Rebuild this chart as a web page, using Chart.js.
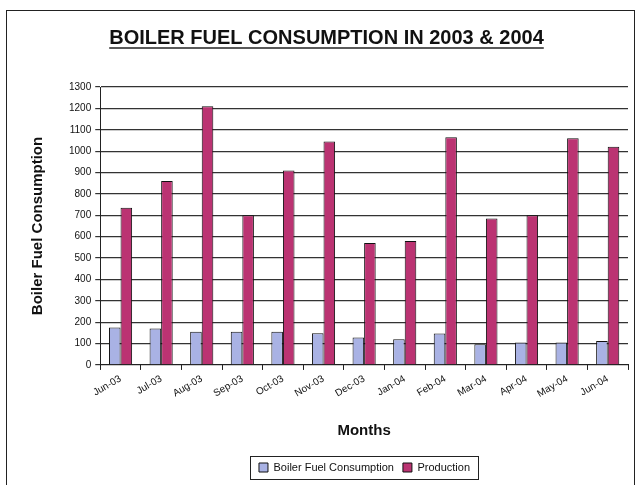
<!DOCTYPE html>
<html>
<head>
<meta charset="utf-8">
<script src="https://cdn.jsdelivr.net/npm/chart.js@4"></script>
<style>
  html, body { margin: 0; padding: 0; background: #fff; }
  #wrap { width: 638px; height: 485px; position: relative; }
</style>
</head>
<body>
<div id="wrap"><canvas id="myChart" width="638" height="485"></canvas></div>
<script>
const ctx = document.getElementById('myChart');

const months = ['Jun-03', 'Jul-03', 'Aug-03', 'Sep-03', 'Oct-03', 'Nov-03', 'Dec-03',
                'Jan-04', 'Feb-04', 'Mar-04', 'Apr-04', 'May-04', 'Jun-04'];
const boilerFuel = [175, 170, 155, 155, 155, 148, 128, 120, 147, 97, 105, 105, 112];
const production = [735, 860, 1210, 700, 910, 1045, 570, 580, 1065, 685, 700, 1060, 1020];

const FONT = '"Liberation Sans", Arial, sans-serif';
const LEGEND_SHIFT = 38;

// outer frame, underlined title, box around the legend
const decorations = {
    id: 'decorations',
    afterLayout(chart) {
        // the legend sits right of centre in the original
        const l = chart.legend;
        l.left += LEGEND_SHIFT;
        l.right += LEGEND_SHIFT;
        (l.legendHitBoxes || []).forEach(b => { b.left += LEGEND_SHIFT; });
    },
    afterDraw(chart) {
        const c = chart.ctx;
        c.save();
        c.strokeStyle = '#222';
        c.lineWidth = 1;
        c.strokeRect(6.5, 10.5, 628, 480);

        const t = chart.titleBlock;
        const tOpt = chart.options.plugins.title;
        c.font = 'bold ' + tOpt.font.size + 'px ' + FONT;
        const w = c.measureText(tOpt.text).width;
        const cx = t.left + t.width / 2;
        const y = t.top + tOpt.padding.top + tOpt.font.size + 2;
        c.lineWidth = 1.5;
        c.beginPath();
        c.moveTo(cx - w / 2, y);
        c.lineTo(cx + w / 2, y);
        c.stroke();

        const boxes = chart.legend.legendHitBoxes;
        if (boxes && boxes.length) {
            let x0 = Infinity, x1 = -Infinity, y0 = Infinity, y1 = -Infinity;
            boxes.forEach(b => {
                x0 = Math.min(x0, b.left); x1 = Math.max(x1, b.left + b.width);
                y0 = Math.min(y0, b.top); y1 = Math.max(y1, b.top + b.height);
            });
            c.lineWidth = 1;
            c.strokeRect(Math.round(x0 - 9) + 0.5, Math.round(y0 - 6) + 0.5,
                         Math.round(x1 - x0 + 17), Math.round(y1 - y0 + 12));
        }
        c.restore();
    }
};

new Chart(ctx, {
    type: 'bar',
    data: {
        labels: months,
        datasets: [
            {
                label: 'Boiler Fuel Consumption',
                data: boilerFuel,
                backgroundColor: '#a9b2e4',
                borderColor: '#111',
                borderWidth: 1
            },
            {
                label: 'Production',
                data: production,
                backgroundColor: '#bb3372',
                borderColor: '#111',
                borderWidth: 1
            }
        ]
    },
    plugins: [decorations],
    options: {
        responsive: false,
        animation: false,
        layout: { padding: { top: 12, left: 25, right: 10, bottom: 2 } },
        datasets: {
            bar: { barPercentage: 1.0, categoryPercentage: 0.57 }
        },
        plugins: {
            title: {
                display: true,
                text: 'BOILER FUEL CONSUMPTION IN 2003 & 2004',
                color: '#111',
                font: { family: FONT, size: 20, weight: 'bold' },
                padding: { top: 14, bottom: 37 }
            },
            legend: {
                position: 'bottom',
                labels: {
                    color: '#111',
                    boxWidth: 9,
                    boxHeight: 9,
                    padding: 9,
                    font: { family: FONT, size: 11 }
                }
            },
            tooltip: { enabled: false }
        },
        scales: {
            x: {
                offset: true,
                grid: {
                    offset: true,
                    drawOnChartArea: false,
                    color: '#222',
                    tickLength: 5
                },
                border: { color: '#222', width: 1 },
                ticks: {
                    color: '#111',
                    minRotation: 30,
                    maxRotation: 30,
                    font: { family: FONT, size: 10 }
                },
                title: {
                    display: true,
                    text: 'Months',
                    color: '#111',
                    font: { family: FONT, size: 15, weight: 'bold' },
                    padding: { top: 19, bottom: 13 }
                }
            },
            y: {
                min: 0,
                max: 1300,
                ticks: {
                    stepSize: 100,
                    color: '#111',
                    padding: 4,
                    format: { useGrouping: false },
                    font: { family: FONT, size: 10 }
                },
                grid: { color: '#333', lineWidth: 1.2, tickLength: 5 },
                border: { color: '#222', width: 1 },
                title: {
                    display: true,
                    text: 'Boiler Fuel Consumption',
                    color: '#111',
                    font: { family: FONT, size: 15, weight: 'bold' },
                    padding: { bottom: 18 }
                }
            }
        }
    }
});
</script>
</body>
</html>
